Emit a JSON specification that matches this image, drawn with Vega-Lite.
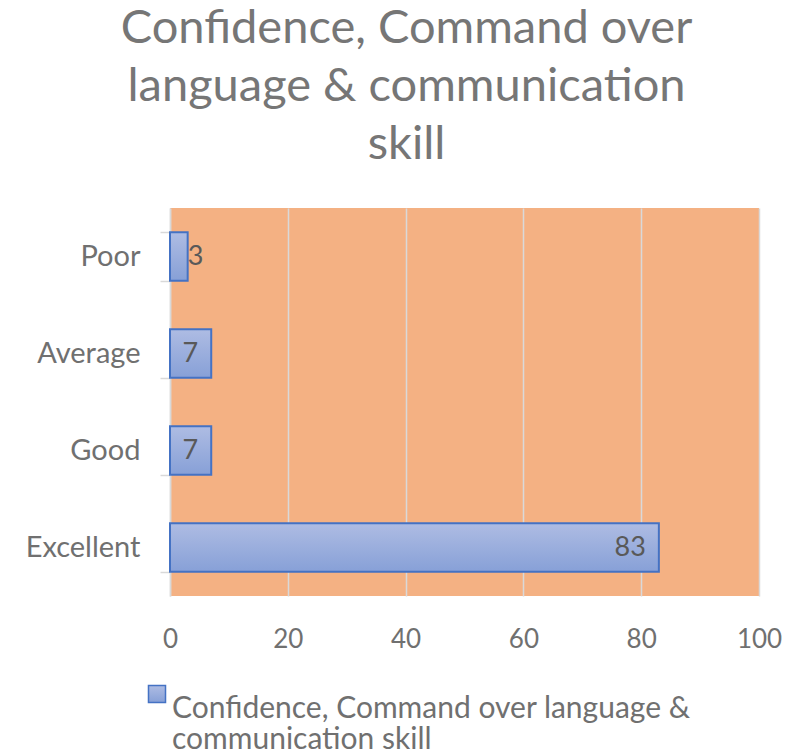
{
  "$schema": "https://vega.github.io/schema/vega-lite/v6.json",
  "width": 589,
  "height": 388,
  "autosize": "none",
  "padding": {"left": 170, "top": 208, "right": 31, "bottom": 156},
  "background": "white",
  "config": {
    "font": "Lato",
    "view": {"fill": "#F4B183", "stroke": null},
    "style": {"guide-label": {"lineHeight": 31}}
  },
  "title": {
    "text": ["Confidence, Command over", "language & communication", "skill"],
    "fontSize": 47,
    "font": "Lato",
    "fontWeight": "normal",
    "color": "#767676",
    "lineHeight": 58,
    "anchor": "middle",
    "dx": -58,
    "offset": -22,
    "baseline": "bottom"
  },
  "data": {
    "values": [
      {"category": "Poor", "value": 3, "series": "Confidence, Command over language & communication skill"},
      {"category": "Average", "value": 7, "series": "Confidence, Command over language & communication skill"},
      {"category": "Good", "value": 7, "series": "Confidence, Command over language & communication skill"},
      {"category": "Excellent", "value": 83, "series": "Confidence, Command over language & communication skill"}
    ]
  },
  "encoding": {
    "y": {
      "field": "category",
      "type": "nominal",
      "sort": ["Poor", "Average", "Good", "Excellent"],
      "scale": {"paddingInner": 0.5, "paddingOuter": 0.25},
      "axis": {
        "title": null,
        "grid": false,
        "tickBand": "extent",
        "domainColor": "#D9D9D9",
        "domainWidth": 1.5,
        "tickColor": "#D9D9D9",
        "tickWidth": 1.5,
        "tickSize": 10,
        "labelPadding": 20,
        "labelFontSize": 29,
        "labelColor": "#707070",
        "labelFont": "Lato"
      }
    },
    "x": {
      "field": "value",
      "type": "quantitative",
      "scale": {"domain": [0, 100]},
      "axis": {
        "title": null,
        "values": [0, 20, 40, 60, 80, 100],
        "domain": false,
        "ticks": false,
        "grid": true,
        "gridColor": "#D9D9D9",
        "gridWidth": 1.5,
        "labelPadding": 30,
        "labelFontSize": 26,
        "labelColor": "#707070",
        "labelFont": "Lato",
        "labelFlush": false
      }
    }
  },
  "layer": [
    {
      "mark": {
        "type": "bar",
        "fill": {
          "gradient": "linear",
          "x1": 0, "y1": 0, "x2": 0, "y2": 1,
          "stops": [
            {"offset": 0, "color": "#AEBCE3"},
            {"offset": 1, "color": "#87A0D7"}
          ]
        },
        "strokeWidth": 2
      },
      "encoding": {
        "stroke": {
          "field": "series",
          "type": "nominal",
          "scale": {"range": ["#4472C4"]},
          "legend": {
            "title": null,
            "orient": "none",
            "legendX": -28,
            "legendY": 471,
            "symbolType": "square",
            "symbolSize": 290,
            "symbolFillColor": "#9CB0DE",
            "symbolStrokeColor": "#4472C4",
            "symbolStrokeWidth": 1.5,
            "labelFontSize": 30,
            "labelFont": "Lato",
            "labelColor": "#707070",
            "labelLimit": 0,
            "labelOffset": 0,
            "labelBaseline": "top",
            "labelExpr": "['Confidence, Command over language &', 'communication skill']"
          }
        }
      }
    },
    {
      "transform": [{"filter": "datum.value >= 5"}],
      "mark": {"type": "text", "align": "right", "baseline": "middle", "dx": -13, "fontSize": 27, "color": "#595959", "font": "Lato"},
      "encoding": {"text": {"field": "value", "type": "quantitative"}}
    },
    {
      "transform": [{"filter": "datum.value < 5"}],
      "mark": {"type": "text", "align": "left", "baseline": "middle", "dx": 0, "fontSize": 27, "color": "#595959", "font": "Lato"},
      "encoding": {"text": {"field": "value", "type": "quantitative"}}
    }
  ]
}
